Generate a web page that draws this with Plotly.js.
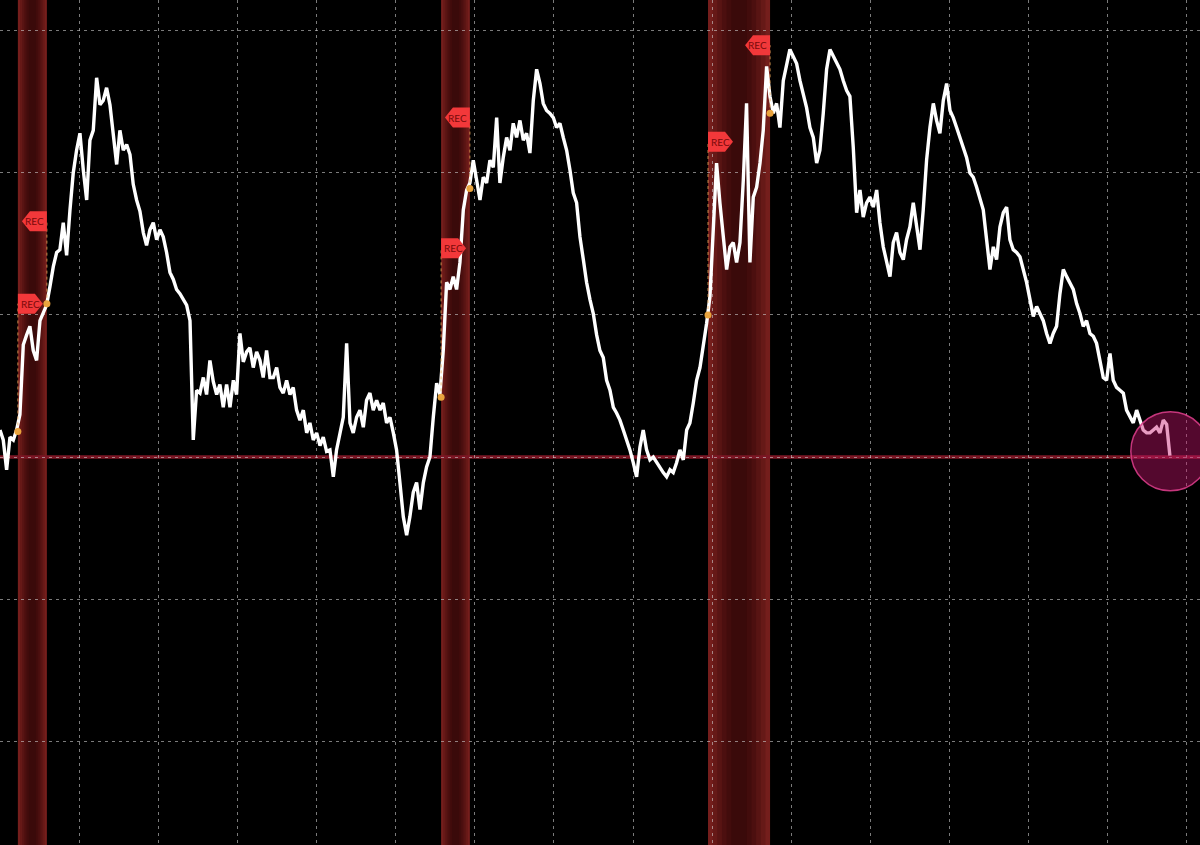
<!DOCTYPE html>
<html>
<head>
<meta charset="utf-8">
<script src="https://cdn.plot.ly/plotly-3.0.1.min.js"></script>
<style>html,body{margin:0;padding:0;background:#000;}#chart{width:1200px;height:845px;}</style>
</head>
<body>
<div id="chart"></div>
<script>
// ---- data ----
const seriesStart = '1990-01-01';
const sampleStepDays = 30.772; // ~4.4 weeks between samples
const values = [
0.19,0.12,-0.09,0.14,0.12,0.19,0.30,0.79,0.86,0.92,
0.75,0.68,0.96,1.02,1.07,1.20,1.34,1.44,1.46,1.65,
1.42,1.74,2.00,2.16,2.28,2.02,1.81,2.23,2.30,2.67,
2.48,2.51,2.60,2.48,2.27,2.06,2.30,2.16,2.20,2.13,
1.92,1.81,1.73,1.58,1.49,1.60,1.65,1.53,1.60,1.55,
1.44,1.30,1.25,1.18,1.15,1.11,1.07,0.96,0.12,0.47,
0.45,0.56,0.44,0.68,0.53,0.44,0.51,0.35,0.51,0.35,
0.54,0.44,0.87,0.67,0.74,0.77,0.63,0.74,0.68,0.56,
0.75,0.56,0.56,0.63,0.49,0.45,0.54,0.44,0.49,0.33,
0.26,0.33,0.17,0.24,0.12,0.17,0.08,0.14,0.04,0.05,
-0.14,0.05,0.17,0.28,0.80,0.24,0.17,0.28,0.33,0.21,
0.40,0.45,0.33,0.40,0.33,0.38,0.24,0.28,0.17,0.05,
-0.18,-0.42,-0.55,-0.42,-0.25,-0.18,-0.37,-0.18,-0.07,0.00,
0.28,0.52,0.44,0.75,1.23,1.18,1.27,1.18,1.37,1.74,
1.88,1.93,2.09,1.93,1.81,1.97,1.93,2.09,2.04,2.39,
1.93,2.11,2.25,2.16,2.35,2.25,2.37,2.23,2.28,2.14,
2.51,2.73,2.63,2.49,2.44,2.42,2.39,2.32,2.35,2.25,
2.16,2.02,1.86,1.79,1.55,1.39,1.23,1.11,1.01,0.86,
0.75,0.70,0.54,0.47,0.35,0.31,0.26,0.19,0.12,0.05,
-0.04,-0.14,0.07,0.19,0.05,-0.02,0.00,-0.04,-0.07,-0.11,
-0.14,-0.09,-0.11,-0.04,0.05,-0.02,0.19,0.24,0.38,0.54,
0.63,0.77,0.94,1.13,1.60,2.07,1.79,1.55,1.32,1.48,
1.51,1.37,1.51,1.95,2.49,1.37,1.83,1.90,2.07,2.30,
2.75,2.54,2.42,2.49,2.32,2.65,2.77,2.87,2.82,2.77,
2.65,2.54,2.46,2.32,2.25,2.07,2.16,2.42,2.73,2.87,
2.82,2.77,2.73,2.65,2.58,2.54,2.18,1.72,1.88,1.69,
1.79,1.83,1.76,1.88,1.65,1.48,1.37,1.27,1.51,1.58,
1.44,1.39,1.53,1.62,1.79,1.62,1.46,1.74,2.09,2.32,
2.49,2.37,2.28,2.51,2.63,2.44,2.39,2.32,2.25,2.18,
2.11,2.00,1.97,1.90,1.83,1.74,1.53,1.32,1.48,1.39,
1.62,1.72,1.76,1.53,1.46,1.44,1.41,1.32,1.23,1.11,
0.99,1.06,1.01,0.96,0.87,0.80,0.87,0.92,1.15,1.32,
1.27,1.23,1.18,1.08,1.01,0.92,0.96,0.87,0.85,0.80,
0.68,0.56,0.54,0.73,0.54,0.49,0.47,0.45,0.33,0.28,
0.24,0.33,0.26,0.19,0.17,0.17,0.19,0.21,0.17,0.26,
0.23,0.01
];
const recessionStarts = ['1990-06-15','2001-02-24','2007-11-24'];
const recessionEnds   = ['1991-03-10','2001-11-17','2009-06-19'];
const startDotValues  = [0.18, 0.42, 1.00];
const endDotValues    = [1.08, 1.89, 2.42];
const startLabelValues = [1.08, 1.47, 2.22];
const endLabelValues   = [1.66, 2.39, 2.90];
const labelText = 'REC';
const highlightDate = '2019-08-01';
const highlightValue = 0.04;
const xRange = ['1990-01-01','2020-05-01'];
const yRange = [-2.732, 3.218];

// ---- build ----
const t0 = Date.parse(seriesStart + 'T00:00:00Z');
const dates = values.map((_, i) => new Date(t0 + i * sampleStepDays * 86400000).toISOString().slice(0,10));

const traces = [];
traces.push({
  type: 'scatter', mode: 'lines', x: dates, y: values,
  line: {color: '#ffffff', width: 3.4, shape: 'linear'},
  hoverinfo: 'skip'
});
traces.push({
  type: 'scatter', mode: 'markers',
  x: recessionStarts.concat(recessionEnds),
  y: startDotValues.concat(endDotValues),
  marker: {color: '#e9a33c', size: 7},
  hoverinfo: 'skip'
});

const shapes = [];
const annotations = [];
const ms = d => Date.parse(d + 'T00:00:00Z');
const iso = t => new Date(t).toISOString().slice(0,19).replace('T',' ');
const bandColors = ['rgb(116,30,28)','rgb(102,25,23)','rgb(88,20,19)','rgb(76,15,15)','rgb(66,12,12)','rgb(58,10,10)'];
recessionStarts.forEach((s, i) => {
  const a = ms(s), b = ms(recessionEnds[i]);
  bandColors.forEach((c, j) => {
    const f = j * 0.075;
    shapes.push({type:'rect', layer:'below', xref:'x', yref:'paper',
      x0: iso(a + (b-a)*f), x1: iso(b - (b-a)*f), y0: 0, y1: 1,
      fillcolor: c, line: {width: 0}});
  });
});
// zero line
shapes.push({type:'line', layer:'between', xref:'paper', yref:'y', x0:0, x1:1, y0:0, y1:0,
  line:{color:'#7c1624', width:3.5}});

// connectors + labels
function addLabel(date, dotVal, labVal, dir) {
  shapes.push({type:'line', layer:'above', xref:'x', yref:'y', x0:date, x1:date, y0:dotVal, y1:labVal,
    line:{color:'rgba(235,170,90,0.8)', width:1, dash:'dot'}});
  const p = dir > 0
    ? 'M0,-10 L17,-10 L25,0 L17,10 L0,10 Z'
    : 'M0,-10 L-17,-10 L-25,0 L-17,10 L0,10 Z';
  shapes.push({type:'path', layer:'above', xref:'x', yref:'y', xsizemode:'pixel', ysizemode:'pixel',
    xanchor: date, yanchor: labVal, path: p, fillcolor:'#f2383a', line:{width:0}});
  annotations.push({x: date, y: labVal, xref:'x', yref:'y', text: labelText, showarrow:false,
    xshift: dir*12.5, font:{family:'Lato, Liberation Sans, sans-serif', size:10, color:'#7a0a0a'}});
}
recessionStarts.forEach((s,i) => addLabel(s, startDotValues[i], startLabelValues[i], 1));
recessionEnds.forEach((e,i) => addLabel(e, endDotValues[i], endLabelValues[i], -1));

// highlight circle
shapes.push({type:'circle', layer:'above', xref:'x', yref:'y', xsizemode:'pixel', ysizemode:'pixel',
  xanchor: highlightDate, yanchor: highlightValue, x0:-39.5, x1:39.5, y0:-39.5, y1:39.5,
  fillcolor:'rgba(200,20,110,0.42)', line:{color:'rgba(215,60,135,0.9)', width:1.5}});

const layout = {
  width: 1200, height: 845,
  margin: {l:0, r:0, t:0, b:0, pad:0},
  paper_bgcolor: '#000000', plot_bgcolor: '#000000',
  showlegend: false,
  xaxis: {type:'date', range: xRange, tick0:'1992-01-01', dtick:'M24',
    showgrid:true, gridcolor:'rgba(205,205,205,0.6)', griddash:'3px,4px', gridwidth:1,
    showticklabels:false, ticks:'', zeroline:false, showline:false, fixedrange:true},
  yaxis: {range: yRange, tick0:0, dtick:1,
    showgrid:true, gridcolor:'rgba(205,205,205,0.6)', griddash:'3px,4px', gridwidth:1,
    showticklabels:false, ticks:'', zeroline:false, showline:false, fixedrange:true},
  shapes: shapes,
  annotations: annotations
};
Plotly.newPlot('chart', traces, layout, {staticPlot:true, displayModeBar:false});
</script>
</body>
</html>
